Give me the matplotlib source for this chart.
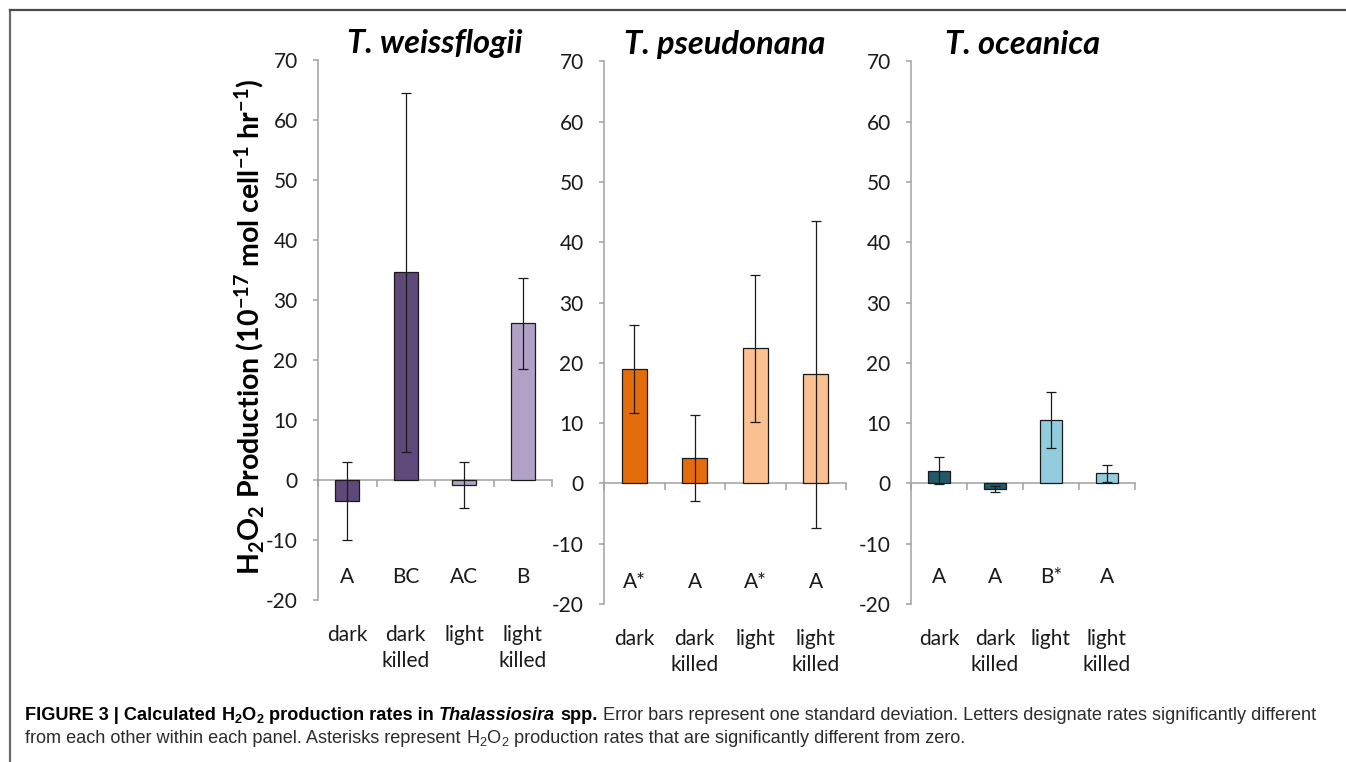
import matplotlib
matplotlib.use("Agg")
import matplotlib.pyplot as plt
from matplotlib.lines import Line2D
from matplotlib.transforms import blended_transform_factory

# data (units: 10^-17 mol cell^-1 hr^-1)
species = ["T. weissflogii", "T. pseudonana", "T. oceanica"]
conditions = ["dark", "dark\nkilled", "light", "light\nkilled"]

weiss_mean = [-3.5, 34.6, -0.8, 26.1]
weiss_sd = [6.45, 29.9, 3.8, 7.6]
pseudo_mean = [18.9, 4.2, 22.4, 18.1]
pseudo_sd = [7.3, 7.1, 12.2, 25.5]
ocean_mean = [2.1, -1.0, 10.5, 1.7]
ocean_sd = [2.2, 0.5, 4.6, 1.4]

weiss_letters = ["A", "BC", "AC", "B"]
pseudo_letters = ["A*", "A", "A*", "A"]
ocean_letters = ["A", "A", "B*", "A"]

weiss_colors = ["#5f497a", "#5f497a", "#b2a1c7", "#b2a1c7"]
pseudo_colors = ["#e46c0a", "#e46c0a", "#fac090", "#fac090"]
ocean_colors = ["#215968", "#215968", "#93cddd", "#93cddd"]

means = [weiss_mean, pseudo_mean, ocean_mean]
sds = [weiss_sd, pseudo_sd, ocean_sd]
letters = [weiss_letters, pseudo_letters, ocean_letters]
colors = [weiss_colors, pseudo_colors, ocean_colors]
letter_y = [-16.2, -16.4, -15.5]

W, H = 1346, 762
plt.rcParams['font.family'] = ['Lato', 'DejaVu Sans']
plt.rcParams['axes.unicode_minus'] = False

fig = plt.figure(figsize=(W / 100, H / 100), dpi=100)

# panel boxes in pixels: left, right, top (70), bottom (-20)
boxes = [(318, 552, 60, 600), (604, 846, 61.4, 604), (911, 1135, 61.4, 604)]
gray = "#a0a0a0"
ink = "#1a1a1a"

for i in range(3):
    x0, x1, yt, yb = boxes[i]
    ax = fig.add_axes([x0 / W, 1 - yb / H, (x1 - x0) / W, (yb - yt) / H])
    ax.patch.set_alpha(0)
    xs = [1, 2, 3, 4]
    ax.bar(xs, means[i], width=0.41, color=colors[i], edgecolor=ink,
           linewidth=0.9, zorder=3)
    ax.errorbar(xs, means[i], yerr=sds[i], fmt='none', ecolor=ink,
                elinewidth=0.9, capsize=3.5, capthick=0.9, zorder=4)
    ax.set_xlim(0.5, 4.5)
    ax.set_ylim(-20, 70)
    ax.set_yticks(range(-20, 71, 10))
    ax.set_xticks([0.5, 1.5, 2.5, 3.5, 4.5])
    ax.set_xticklabels([])
    for s in ['top', 'right']:
        ax.spines[s].set_visible(False)
    ax.spines['bottom'].set_position(('data', 0))
    for s in ['left', 'bottom']:
        ax.spines[s].set_color(gray)
        ax.spines[s].set_linewidth(1.1)
        ax.spines[s].set_zorder(2)
    ax.tick_params(axis='x', direction='out', length=5, color=gray, width=1.1)
    ax.tick_params(axis='y', direction='out', length=3.6, color=gray, width=1.1,
                   pad=11, labelsize=15, labelcolor=ink)
    ax.set_title(species[i], fontsize=23.5, fontweight='bold', fontstyle='italic',
                 pad=5, color='black')

    for j in range(4):
        ax.text(xs[j], letter_y[i], letters[i][j], ha='center', va='center',
                fontsize=15, color=ink)

    trans = blended_transform_factory(ax.transData, ax.transAxes)
    for j, lab in enumerate(conditions):
        ax.annotate(lab, xy=(xs[j], 0), xycoords=trans, xytext=(0, -25),
                    textcoords='offset pixels', ha='center', va='top',
                    fontsize=15, color=ink, linespacing=1.4)

# y label
fig.text(249 / W, 1 - 327 / H,
         r"$\mathregular{H_2O_2}$ Production ($\mathregular{10^{-17}}$ mol cell$\mathregular{^{-1}}$ hr$\mathregular{^{-1}}$)",
         rotation=90, ha='center', va='center', fontsize=20.5, fontweight='bold',
         color='black')

# frame lines
fig.add_artist(Line2D([9.5 / W, 9.5 / W], [0, 1 - 9.5 / H], color='#6a6a6a', lw=1.6))
fig.add_artist(Line2D([9.5 / W, 1], [1 - 9.5 / H, 1 - 9.5 / H], color='#4a4a4a', lw=1.6))

# caption
cap_font = ['Liberation Sans Narrow', 'Liberation Sans', 'DejaVu Sans']
line1 = [("FIGURE 3 | Calculated", 'bold', 'normal', False),
         (r"$\mathregular{H_2O_2}$", 'bold', 'normal', True),
         ("production rates in", 'bold', 'normal', True),
         ("Thalassiosira", 'bold', 'italic', True),
         ("spp.", 'bold', 'normal', True),
         ("Error bars represent one standard deviation. Letters designate rates significantly different",
          'normal', 'normal', True)]
line2 = [("from each other within each panel. Asterisks represent", 'normal', 'normal', False),
         (r"$\mathregular{H_2O_2}$", 'normal', 'normal', True),
         ("production rates that are significantly different from zero.", 'normal', 'normal', True)]


def width_of(s, size, weight, style, renderer):
    t = fig.text(0, 0, s, fontsize=size, fontweight=weight, fontstyle=style,
                 family=cap_font)
    w = t.get_window_extent(renderer).width
    t.remove()
    return w


def put_line(runs, x_px, base_px, size, renderer, draw=True):
    x = x_px
    for s, weight, style, gap in runs:
        if gap:
            x += (width_of("x x", size, weight, style, renderer)
                  - width_of("xx", size, weight, style, renderer))
        t = fig.text(x / W, 1 - base_px / H, s, fontsize=size, fontweight=weight,
                     fontstyle=style, family=cap_font, va='baseline', ha='left',
                     color='black' if weight == 'bold' else '#2b2b2b')
        x += t.get_window_extent(renderer).width
        if not draw:
            t.remove()
    return x - x_px


renderer = fig.canvas.get_renderer()
w0 = put_line(line1, 25, 720, 14, renderer, draw=False)
size = 14 * 1296 / w0
put_line(line1, 25, 720, size, renderer)
put_line(line2, 25, 743, size, renderer)

fig.savefig("out.png", dpi=100)
